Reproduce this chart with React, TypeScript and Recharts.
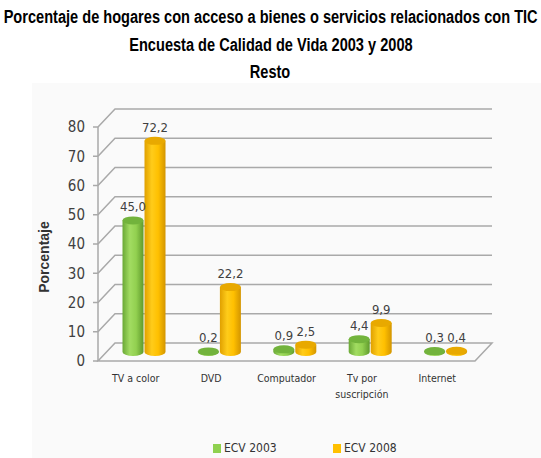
import React from 'react';
import { BarChart, Bar, XAxis, YAxis, CartesianGrid, Legend, LabelList } from 'recharts';

const categories = ['TV a color', 'DVD', 'Computador', 'Tv por suscripción', 'Internet'];
const ecv2003 = [45.0, 0.2, 0.9, 4.4, 0.3];
const ecv2008 = [72.2, 22.2, 2.5, 9.9, 0.4];
const yTicks = [0, 10, 20, 30, 40, 50, 60, 70, 80];
const titleLines = [
  'Porcentaje de hogares con acceso a bienes o servicios relacionados con TIC',
  'Encuesta de Calidad de Vida 2003 y 2008',
  'Resto',
];

const data = categories.map((c, i) => ({ name: c, ecv2003: ecv2003[i], ecv2008: ecv2008[i] }));

const W = 541;
const H = 458;
const TOP = 127;
const BOTTOM = 361;
const DEPTH = 17; // 3D back-wall offset
const BX = 8.5; // bars stand in the middle of the depth
const BY = 9;
const NARROW = '"DejaVu Sans Condensed", "DejaVu Sans", sans-serif';
const SANS = '"Liberation Sans", Arial, sans-serif';
const GRID = '#a9a9a9';

const fmt = (v: number) => v.toFixed(1).replace('.', ',');

const gridLine = (p: any) => {
  const { x1, x2, y1 } = p;
  const d =
    y1 > BOTTOM - 1
      ? `M${x1},${y1} L${x2},${y1} L${x2 + DEPTH},${y1 - DEPTH - 1} L${x1 + DEPTH},${y1 - DEPTH - 1} Z`
      : `M${x1},${y1} L${x1 + DEPTH},${y1 - DEPTH - 1} L${x2 + DEPTH},${y1 - DEPTH - 1}`;
  return <path key={p.key} d={d} fill="none" stroke={GRID} strokeWidth={1.5} />;
};

const Cylinder = (props: any) => {
  const { x, y, width, height, gradient, top } = props;
  const rx = width / 2;
  const ry = 4;
  const left = x + BX;
  const cy = y - BY;
  const bottom = cy + Math.max(height, 0);
  return (
    <g>
      <path
        d={`M${left},${cy} L${left},${bottom} A${rx},${ry} 0 0 0 ${left + width},${bottom} L${left + width},${cy} Z`}
        fill={`url(#${gradient})`}
      />
      <ellipse cx={left + rx} cy={cy} rx={rx} ry={ry} fill={top} />
    </g>
  );
};

const valueLabel = (p: any) => {
  const { x, y, width, value } = p;
  return (
    <text
      x={x + width / 2 + BX}
      y={y - BY - 9}
      textAnchor="middle"
      fontFamily={NARROW}
      fontSize={13}
      fill="#404040"
    >
      {fmt(value)}
    </text>
  );
};

const CategoryTick = (p: any) => {
  const { x, y, payload } = p;
  const words = payload.value === 'Tv por suscripción' ? ['Tv por', 'suscripción'] : [payload.value];
  return (
    <text x={x} y={y} textAnchor="middle" fontFamily={NARROW} fontSize={10.5} fill="#333">
      {words.map((w, i) => (
        <tspan key={i} x={x} dy={i === 0 ? 13 : 16}>
          {w}
        </tspan>
      ))}
    </text>
  );
};

const legendContent = () => (
  <div style={{ display: 'flex', marginLeft: 213, fontFamily: NARROW, fontSize: 12, color: '#333' }}>
    <span style={{ display: 'flex', alignItems: 'center', width: 120 }}>
      <span style={{ width: 8, height: 9, background: '#8fd14f', marginRight: 3 }} />
      ECV 2003
    </span>
    <span style={{ display: 'flex', alignItems: 'center' }}>
      <span style={{ width: 8, height: 9, background: '#ffc000', marginRight: 3 }} />
      ECV 2008
    </span>
  </div>
);

export default function App() {
  return (
    <div style={{ position: 'absolute', left: 0, top: 0, width: W, height: H, background: '#fff', overflow: 'hidden' }}>
      <div style={{ position: 'absolute', left: 32, top: 83, right: 0, bottom: 0, background: '#fafafa' }} />
      <div
        style={{
          position: 'absolute',
          left: -100,
          top: 4,
          width: W + 200,
          textAlign: 'center',
          fontFamily: SANS,
          fontWeight: 'bold',
          fontSize: 18,
          lineHeight: '27.5px',
          color: '#000',
          whiteSpace: 'nowrap',
        }}
      >
        {titleLines.map((t) => (
          <div key={t}>
            <span style={{ display: 'inline-block', transform: 'scaleX(0.81)' }}>{t}</span>
          </div>
        ))}
      </div>
      <div style={{ position: 'absolute', left: 0, top: 0 }}>
        <BarChart
          width={W}
          height={H}
          data={data}
          margin={{ top: TOP, right: 66, bottom: 57, left: 38 }}
          barGap={1}
          barSize={21}
        >
          <defs>
            <linearGradient id="gGreen" x1="0" y1="0" x2="1" y2="0">
              <stop offset="0%" stopColor="#6aa836" />
              <stop offset="35%" stopColor="#a2dc62" />
              <stop offset="65%" stopColor="#92d050" />
              <stop offset="100%" stopColor="#5f9a2c" />
            </linearGradient>
            <linearGradient id="gOrange" x1="0" y1="0" x2="1" y2="0">
              <stop offset="0%" stopColor="#e0a000" />
              <stop offset="35%" stopColor="#ffcc1a" />
              <stop offset="65%" stopColor="#ffc000" />
              <stop offset="100%" stopColor="#d39500" />
            </linearGradient>
          </defs>
          <CartesianGrid vertical={false} horizontal={gridLine} />
          <XAxis dataKey="name" height={40} axisLine={false} tickLine={false} tick={<CategoryTick />} interval={0} />
          <YAxis
            width={60}
            domain={[0, 80]}
            ticks={yTicks}
            interval={0}
            axisLine={{ stroke: GRID, strokeWidth: 1.5 }}
            tickLine={{ stroke: GRID, strokeWidth: 1.5 }}
            tickSize={5}
            tick={{ fontFamily: NARROW, fontSize: 15, fill: '#404040', dx: -6 }}
            label={{
              value: 'Porcentaje',
              content: () => (
                <text
                  transform="translate(49,257) rotate(-90)"
                  textAnchor="middle"
                  fontFamily={SANS}
                  fontWeight="bold"
                  fontSize={14}
                  fill="#333"
                >
                  Porcentaje
                </text>
              ),
            }}
          />
          <Legend verticalAlign="middle" align="center" content={legendContent} wrapperStyle={{ top: 441, left: 0, width: W }} />
          <Bar
            dataKey="ecv2003"
            name="ECV 2003"
            fill="#8fd14f"
            isAnimationActive={false}
            shape={<Cylinder gradient="gGreen" top="#72b33c" />}
          >
            <LabelList dataKey="ecv2003" content={valueLabel} />
          </Bar>
          <Bar
            dataKey="ecv2008"
            name="ECV 2008"
            fill="#ffc000"
            isAnimationActive={false}
            shape={<Cylinder gradient="gOrange" top="#e8a900" />}
          >
            <LabelList dataKey="ecv2008" content={valueLabel} />
          </Bar>
        </BarChart>
      </div>
    </div>
  );
}
